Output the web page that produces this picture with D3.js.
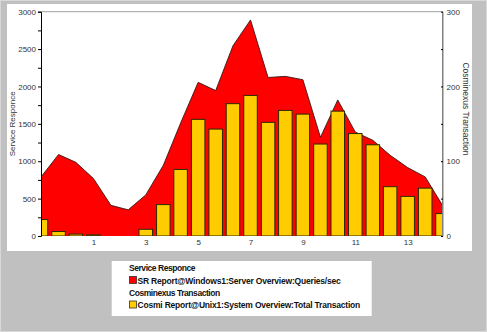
<!DOCTYPE html>
<html><head><meta charset="utf-8">
<script src="https://cdn.jsdelivr.net/npm/d3@7"></script>
<style>
html,body{margin:0;padding:0;background:#c0c0c0;}
svg{display:block;}
text{font-family:"Liberation Sans",Arial,sans-serif;}
</style></head>
<body>
<svg id="chart" width="487" height="332"></svg>
<script>
// x positions of the 24 samples (axis units)
const xValues = [-1, -0.33, 0.33, 1, 1.67, 2.33, 3, 3.67, 4.33, 5, 5.67, 6.33,
                 7, 7.67, 8.33, 9, 9.67, 10.33, 11, 11.67, 12.33, 13, 13.67, 14.33];
// Service Responce : SR Report@Windows1:Server Overview:Queries/sec
const queriesPerSec = [790, 1090, 985, 770, 410, 350, 550, 945, 1510, 2055, 1945, 2545,
                       2890, 2120, 2135, 2090, 1320, 1820, 1390, 1280, 1080, 915, 790, 410];
// Cosminexus Transaction : Cosmi Report@Unix1:System Overview:Total Transaction
const totalTransaction = [22, 6, 2.5, 1.5, 0, 0, 9, 42, 89, 156, 143, 177,
                          188, 152, 168, 163, 123, 167, 137, 122, 66, 53, 64, 30];
const xTicks = [1, 3, 5, 7, 9, 11, 13];
const leftTicks = [0, 500, 1000, 1500, 2000, 2500, 3000];
const rightTicks = [0, 100, 200, 300];
const legendGroups = [
  {title: "Service Responce", item: "SR Report@Windows1:Server Overview:Queries/sec", color: "#ff0000"},
  {title: "Cosminexus Transaction", item: "Cosmi Report@Unix1:System Overview:Total Transaction", color: "#ffcc00"}
];

const svg = d3.select("#chart");
const W = 487, H = 332;
const L = 41, R = 442.5, T = 11.7, B = 236;

svg.append("rect").attr("x",0).attr("y",0).attr("width",W).attr("height",H).attr("fill","#c0c0c0");
svg.append("rect").attr("x",0.5).attr("y",0.5).attr("width",W-1).attr("height",H-1)
  .attr("fill","none").attr("stroke","#d8d8d8");
// white chart panel
svg.append("rect").attr("x",7).attr("y",4).attr("width",465).attr("height",247).attr("fill","#fff");

const x = d3.scaleLinear().domain([-1, 14.33]).range([L, R]);
const yL = d3.scaleLinear().domain([0, 3000]).range([B, T]);
const yR = d3.scaleLinear().domain([0, 300]).range([B, T]);

const plot = svg.append("g");
plot.append("defs").append("clipPath").attr("id","clip")
  .append("rect").attr("x",L).attr("y",T-2).attr("width",R-L).attr("height",B-T+2);

const idx = d3.range(xValues.length);
const area = d3.area().x(i => x(xValues[i])).y0(yL(0)).y1(i => yL(queriesPerSec[i]));
const line = d3.line().x(i => x(xValues[i])).y(i => yL(queriesPerSec[i]));

const g = plot.append("g").attr("clip-path","url(#clip)");
g.append("path").attr("d", area(idx)).attr("fill","#ff0000");
g.append("path").attr("d", line(idx)).attr("fill","none").attr("stroke","#3a1a1a").attr("stroke-width",0.9);

const step = x(xValues[1]) - x(xValues[0]);
const bw = step * 0.77;
g.selectAll("rect.bar").data(idx.filter(i => totalTransaction[i] > 0)).enter().append("rect")
  .attr("class","bar")
  .attr("x", i => x(xValues[i]) - bw/2)
  .attr("y", i => yR(totalTransaction[i]))
  .attr("width", bw)
  .attr("height", i => yR(0) - yR(totalTransaction[i]))
  .attr("fill","#ffcc00").attr("stroke","#2a2a00").attr("stroke-width",1);

// frame lines
svg.append("line").attr("x1",L).attr("x2",R).attr("y1",T).attr("y2",T).attr("stroke","#a0a0a0");
svg.append("line").attr("x1",R).attr("x2",R).attr("y1",T).attr("y2",B).attr("stroke","#808080");

// left axis
const axL = d3.axisLeft(yL).tickValues(d3.range(0, 3001, 250)).tickSize(3)
  .tickFormat(d => leftTicks.includes(d) ? d : "");
const gL = svg.append("g").attr("transform",`translate(${L},0)`).call(axL);
gL.select(".domain").attr("stroke","#000");
gL.selectAll("line").attr("stroke","#000");
gL.selectAll("text").attr("font-size",8).attr("fill","#333").attr("x",-5);

// right axis
const axR = d3.axisRight(yR).tickValues(d3.range(0, 301, 50)).tickSize(0)
  .tickFormat(d => rightTicks.includes(d) ? d : "");
const gR = svg.append("g").attr("transform",`translate(${R},0)`).call(axR);
gR.select(".domain").attr("stroke","#808080");
gR.selectAll(".tick").append("line").attr("x1",-1.5).attr("x2",0.5).attr("stroke","#000");
gR.selectAll("text").attr("font-size",8).attr("fill","#333").attr("x",4);

// bottom axis labels
const axB = d3.axisBottom(x).tickValues(xTicks).tickSize(0).tickFormat(d3.format("d"));
const gB = svg.append("g").attr("transform",`translate(0,${B})`).call(axB);
gB.select(".domain").remove();
gB.selectAll("text").attr("font-size",8).attr("fill","#333").attr("y",3);

// axis titles
svg.append("text").attr("transform",`translate(15,${(T+B)/2}) rotate(-90)`)
  .attr("text-anchor","middle").attr("font-size",8).attr("fill","#333").text("Service Responce");
svg.append("text").attr("transform",`translate(463,109) rotate(90)`)
  .attr("text-anchor","middle").attr("font-size",8.5).attr("fill","#333").text("Cosminexus Transaction");

// legend
const lg = svg.append("g");
lg.append("rect").attr("x",111.7).attr("y",261).attr("width",260).attr("height",55).attr("fill","#fff");
legendGroups.forEach((d, k) => {
  const y0 = 261 + k * 24.5;
  lg.append("text").attr("x",129).attr("y",y0 + 10).attr("font-size",8.5).attr("fill","#111")
    .attr("font-weight","bold").attr("letter-spacing",-0.45).text(d.title);
  lg.append("rect").attr("x",129.5).attr("y",y0 + 15.5).attr("width",7).attr("height",7)
    .attr("fill",d.color).attr("stroke","#333").attr("stroke-width",0.8);
  lg.append("text").attr("x",137.5).attr("y",y0 + 22.5).attr("font-size",8.5).attr("fill","#111")
    .attr("font-weight","bold").attr("letter-spacing",-0.2).text(d.item);
});
</script>
</body></html>
